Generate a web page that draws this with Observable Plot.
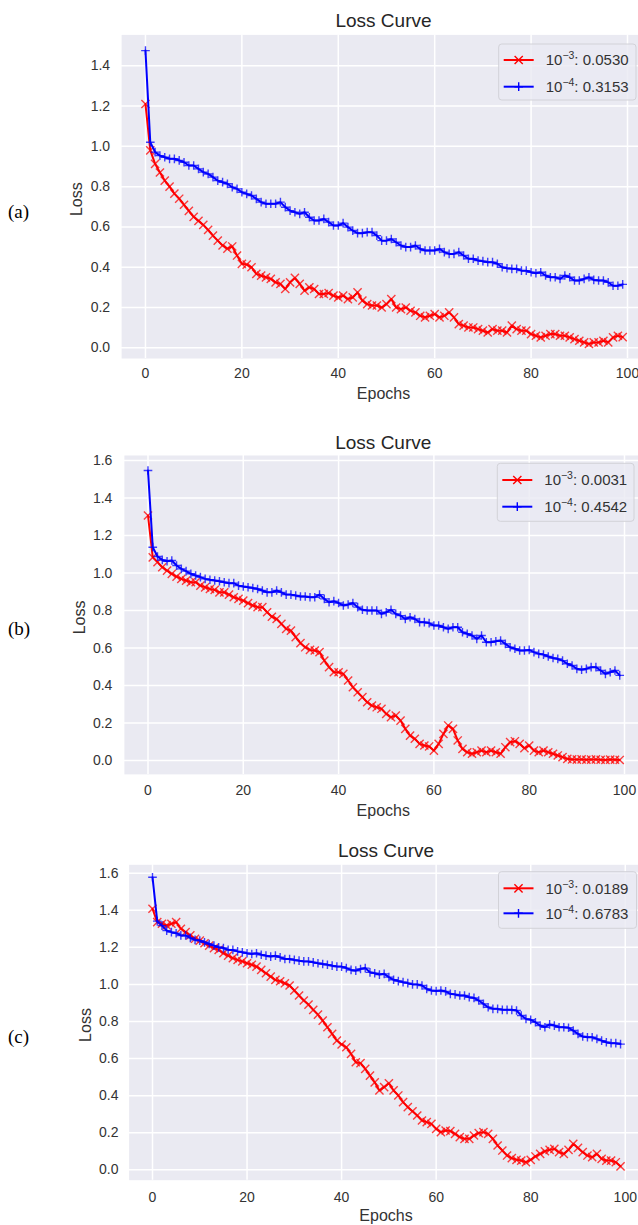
<!DOCTYPE html>
<html>
<head>
<meta charset="utf-8">
<script src="https://cdn.jsdelivr.net/npm/d3@7"></script>
<script src="https://cdn.jsdelivr.net/npm/@observablehq/plot@0.6"></script>
<style>
  html, body { margin: 0; padding: 0; background: #fff; }
  #root { position: relative; width: 638px; height: 1225px; overflow: hidden; background: #fff; }
  .panel { position: absolute; left: 0; }
  #overlay { position: absolute; left: 0; top: 0; pointer-events: none; }
</style>
</head>
<body>
<div id="root"></div>
<script>
// ---------- data ----------
const epochs = Array.from({length: 100}, (_, i) => i);
const xTicks = [0, 20, 40, 60, 80, 100];
const yTicksA = [0, 0.2, 0.4, 0.6, 0.8, 1.0, 1.2, 1.4];
const yTicksBC = [0, 0.2, 0.4, 0.6, 0.8, 1.0, 1.2, 1.4, 1.6];
const lrNames = ["1e-3", "1e-4"];
const lrExponents = ["−3", "−4"];
const panelLetters = ["(a)", "(b)", "(c)"];
const finalLossA = ["0.0530", "0.3153"];
const finalLossB = ["0.0031", "0.4542"];
const finalLossC = ["0.0189", "0.6783"];
const titleText = "Loss Curve";
const xLabel = "Epochs";
const yLabel = "Loss";

const lossA_1e3 = [1.21,0.98,0.913,0.87,0.83,0.80,0.765,0.74,0.71,0.68,
  0.65,0.63,0.61,0.585,0.557,0.532,0.508,0.492,0.503,0.458,
  0.417,0.413,0.40,0.367,0.358,0.35,0.342,0.325,0.317,0.292,
  0.325,0.347,0.317,0.284,0.30,0.292,0.267,0.267,0.272,0.259,
  0.25,0.259,0.242,0.25,0.275,0.234,0.217,0.21,0.21,0.20,
  0.217,0.242,0.20,0.192,0.20,0.184,0.176,0.159,0.151,0.159,
  0.167,0.151,0.159,0.176,0.151,0.118,0.11,0.101,0.101,0.093,
  0.085,0.076,0.093,0.085,0.085,0.076,0.11,0.093,0.085,0.085,
  0.068,0.06,0.052,0.06,0.068,0.068,0.06,0.06,0.052,0.043,
  0.035,0.027,0.019,0.027,0.027,0.035,0.027,0.052,0.06,0.053];
const lossA_1e4 = [1.475,1.02,0.971,0.954,0.946,0.938,0.938,0.93,0.921,0.905,
  0.905,0.888,0.872,0.863,0.847,0.83,0.822,0.814,0.797,0.789,
  0.772,0.764,0.756,0.739,0.723,0.715,0.715,0.715,0.723,0.698,
  0.681,0.673,0.665,0.673,0.648,0.632,0.632,0.64,0.624,0.607,
  0.607,0.619,0.599,0.582,0.569,0.569,0.574,0.574,0.557,0.532,
  0.532,0.54,0.524,0.508,0.50,0.50,0.508,0.491,0.483,0.483,
  0.483,0.491,0.475,0.466,0.466,0.475,0.458,0.442,0.442,0.433,
  0.43,0.425,0.425,0.417,0.40,0.395,0.392,0.392,0.383,0.383,
  0.375,0.37,0.375,0.359,0.35,0.35,0.342,0.359,0.35,0.334,
  0.334,0.342,0.35,0.337,0.334,0.334,0.325,0.308,0.308,0.315];
const lossB_1e3 = [1.307,1.084,1.058,1.031,1.013,0.996,0.981,0.969,0.96,0.951,
  0.951,0.933,0.924,0.915,0.91,0.897,0.897,0.885,0.871,0.862,
  0.853,0.84,0.827,0.818,0.818,0.791,0.767,0.755,0.729,0.702,
  0.693,0.658,0.626,0.604,0.59,0.587,0.578,0.533,0.498,0.471,
  0.471,0.462,0.427,0.391,0.364,0.338,0.311,0.293,0.284,0.276,
  0.249,0.231,0.24,0.213,0.169,0.133,0.116,0.089,0.08,0.075,
  0.053,0.089,0.142,0.187,0.169,0.107,0.062,0.044,0.036,0.044,
  0.053,0.044,0.053,0.044,0.036,0.071,0.098,0.103,0.089,0.066,
  0.08,0.053,0.044,0.053,0.044,0.036,0.027,0.018,0.009,0.006,
  0.005,0.006,0.004,0.005,0.006,0.004,0.003,0.005,0.004,0.003];
const lossB_1e4 = [1.547,1.138,1.088,1.07,1.063,1.067,1.04,1.022,1.01,0.996,
  0.987,0.978,0.969,0.964,0.96,0.956,0.951,0.946,0.946,0.933,
  0.928,0.924,0.92,0.915,0.907,0.897,0.897,0.907,0.897,0.885,
  0.885,0.88,0.875,0.875,0.871,0.871,0.885,0.862,0.844,0.85,
  0.84,0.827,0.832,0.84,0.818,0.804,0.8,0.8,0.8,0.782,
  0.791,0.804,0.782,0.773,0.755,0.764,0.755,0.738,0.738,0.733,
  0.72,0.72,0.711,0.702,0.711,0.711,0.684,0.676,0.667,0.649,
  0.667,0.631,0.631,0.636,0.64,0.622,0.604,0.596,0.587,0.587,
  0.59,0.578,0.569,0.565,0.555,0.547,0.542,0.533,0.516,0.507,
  0.489,0.484,0.489,0.498,0.498,0.48,0.462,0.471,0.48,0.454];
const lossC_1e3 = [1.408,1.336,1.327,1.318,1.327,1.336,1.30,1.282,1.264,1.246,
  1.236,1.222,1.209,1.196,1.186,1.168,1.155,1.142,1.132,1.124,
  1.114,1.106,1.096,1.078,1.06,1.042,1.024,1.017,1.006,0.994,
  0.967,0.94,0.913,0.891,0.863,0.837,0.805,0.769,0.733,0.697,
  0.676,0.661,0.625,0.58,0.575,0.544,0.508,0.472,0.428,0.446,
  0.467,0.428,0.401,0.365,0.338,0.316,0.293,0.266,0.257,0.248,
  0.221,0.203,0.212,0.209,0.194,0.176,0.167,0.167,0.185,0.198,
  0.203,0.194,0.167,0.131,0.104,0.077,0.063,0.054,0.05,0.041,
  0.054,0.072,0.086,0.10,0.108,0.113,0.095,0.086,0.108,0.14,
  0.118,0.095,0.077,0.068,0.086,0.059,0.05,0.05,0.041,0.019];
const lossC_1e4 = [1.578,1.341,1.317,1.29,1.282,1.276,1.264,1.264,1.251,1.24,
  1.236,1.227,1.218,1.209,1.2,1.196,1.186,1.186,1.178,1.173,
  1.168,1.164,1.168,1.16,1.155,1.15,1.155,1.146,1.137,1.137,
  1.132,1.128,1.124,1.124,1.119,1.114,1.11,1.106,1.101,1.096,
  1.096,1.088,1.078,1.074,1.083,1.088,1.065,1.06,1.053,1.057,
  1.039,1.025,1.018,1.012,1.007,1.0,1.0,0.994,0.976,0.967,
  0.964,0.967,0.962,0.949,0.946,0.94,0.94,0.931,0.927,0.913,
  0.895,0.877,0.868,0.868,0.863,0.863,0.863,0.859,0.832,0.814,
  0.809,0.796,0.778,0.769,0.784,0.778,0.769,0.769,0.766,0.751,
  0.733,0.719,0.715,0.715,0.706,0.697,0.688,0.683,0.683,0.678];

// ---------- style constants ----------
const RED = "#ff0000", BLUE = "#0000ff", BG = "#eaeaf2", TXT = "#333333";
const SANS = "'Liberation Sans', Arial, sans-serif";
const RED_R = 3.8, BLUE_R = 2.9;

// ---------- panel layout (pixel geometry) ----------
const panels = [
  { top: 0, h: 400, ml: 121.1, mt: 34.4, mb: 42, xEnd: 102.28, yDomain: [-0.053, 1.553], yTicks: yTicksA,
    xpad: 10, ypad: 11.5, series: [lossA_1e3, lossA_1e4], finals: finalLossA,
    titleX: 383.5, titleY: 27.3, xlabY: 399, ylabX: 81.5, letterY: 217.8,
    legend: { x: 498.7, y: 44, w: 137.3, h: 56, rows: [60, 86.7] } },
  { top: 420, h: 400, ml: 123.9, mt: 35, mb: 46.1, xEnd: 102.94, yDomain: [-0.074, 1.627], yTicks: yTicksBC,
    xpad: 11, ypad: 12, series: [lossB_1e3, lossB_1e4], finals: finalLossB,
    titleX: 383.3, titleY: 449.3, xlabY: 815.5, ylabX: 84.5, letterY: 634.8,
    legend: { x: 497.3, y: 463.3, w: 136.7, h: 58, rows: [480, 506.7] } },
  { top: 830, h: 395, ml: 128.6, mt: 34.3, mb: 45.3, xEnd: 102.8, yDomain: [-0.056, 1.645], yTicks: yTicksBC,
    xpad: 12, ypad: 10.6, series: [lossC_1e3, lossC_1e4], finals: finalLossC,
    titleX: 386, titleY: 857.3, xlabY: 1220.5, ylabX: 90.5, letterY: 1042.8,
    legend: { x: 498.5, y: 871.7, w: 138, h: 56.6, rows: [888.3, 913.3] } }
];

const root = document.getElementById("root");

panels.forEach((p) => {
  const rows = (k) => p.series[k].map((v, i) => ({ epoch: epochs[i], loss: v, lr: lrNames[k] }));
  const red = rows(0), blue = rows(1);
  const chart = Plot.plot({
    width: 638, height: p.h,
    marginLeft: p.ml, marginRight: 0, marginTop: p.mt, marginBottom: p.mb,
    style: { fontFamily: SANS, fontSize: "14px", color: TXT, background: "transparent", overflow: "visible" },
    x: { domain: [-4.95, p.xEnd], ticks: xTicks, tickSize: 0, tickPadding: p.xpad, label: null },
    y: { domain: p.yDomain, ticks: p.yTicks, tickFormat: d3.format(".1f"), tickSize: 0, tickPadding: p.ypad, label: null },
    marks: [
      Plot.frame({ fill: BG, stroke: "none" }),
      Plot.gridX(xTicks, { stroke: "#fff", strokeOpacity: 1, strokeWidth: 1.5 }),
      Plot.gridY(p.yTicks, { stroke: "#fff", strokeOpacity: 1, strokeWidth: 1.5 }),
      Plot.line(red, { x: "epoch", y: "loss", stroke: RED, strokeWidth: 2 }),
      Plot.dot(red, { x: "epoch", y: "loss", symbol: "times", stroke: RED, r: RED_R, strokeWidth: 1.4, strokeOpacity: 0.75 }),
      Plot.line(blue, { x: "epoch", y: "loss", stroke: BLUE, strokeWidth: 2 }),
      Plot.dot(blue, { x: "epoch", y: "loss", symbol: "plus", stroke: BLUE, r: BLUE_R, strokeWidth: 1.4, strokeOpacity: 0.75 })
    ]
  });
  const wrap = document.createElement("div");
  wrap.className = "panel";
  wrap.style.top = p.top + "px";
  wrap.appendChild(chart);
  root.appendChild(wrap);
});

// ---------- overlay: titles, axis labels, legends ----------
const svg = d3.select(root).append("svg")
  .attr("id", "overlay").attr("width", 638).attr("height", 1225)
  .style("font-family", SANS);

const symTimes = d3.symbol(d3.symbolTimes, Math.PI * RED_R * RED_R)();
const symPlus = d3.symbol(d3.symbolPlus, Math.PI * BLUE_R * BLUE_R)();

panels.forEach((p, idx) => {
  svg.append("text").attr("x", p.titleX).attr("y", p.titleY).attr("text-anchor", "middle")
    .attr("font-size", 19).attr("fill", "#262626").text(titleText);
  svg.append("text").attr("x", p.titleX).attr("y", p.xlabY).attr("text-anchor", "middle")
    .attr("font-size", 16).attr("fill", TXT).text(xLabel);
  const cy = p.top + p.mt + (p.h - p.mt - p.mb) / 2;
  svg.append("text").attr("transform", `translate(${p.ylabX},${cy + 3}) rotate(-90)`).attr("text-anchor", "middle")
    .attr("font-size", 16).attr("fill", TXT).text(yLabel);
  svg.append("text").attr("x", 8).attr("y", p.letterY)
    .attr("font-family", "'Liberation Serif', 'Times New Roman', serif")
    .attr("font-size", 19).attr("fill", "#000").text(panelLetters[idx]);

  const L = p.legend;
  svg.append("rect").attr("x", L.x).attr("y", L.y).attr("width", L.w).attr("height", L.h).attr("rx", 3)
    .attr("fill", BG).attr("fill-opacity", 0.8).attr("stroke", "#d2d2d8").attr("stroke-width", 1);
  L.rows.forEach((ry, k) => {
    const color = k === 0 ? RED : BLUE;
    svg.append("line").attr("x1", L.x + 5).attr("x2", L.x + 35).attr("y1", ry).attr("y2", ry)
      .attr("stroke", color).attr("stroke-width", 2);
    svg.append("path").attr("d", k === 0 ? symTimes : symPlus)
      .attr("transform", `translate(${L.x + 20},${ry})`)
      .attr("fill", "none").attr("stroke", color).attr("stroke-width", 1.4);
    const t = svg.append("text").attr("x", L.x + 47).attr("y", ry + 5.3).attr("font-size", 15).attr("fill", TXT);
    t.append("tspan").text("10");
    t.append("tspan").attr("font-size", 10.5).attr("dy", -6).text(lrExponents[k]);
    t.append("tspan").attr("dy", 6).text(": " + p.finals[k]);
  });
});
</script>
</body>
</html>
